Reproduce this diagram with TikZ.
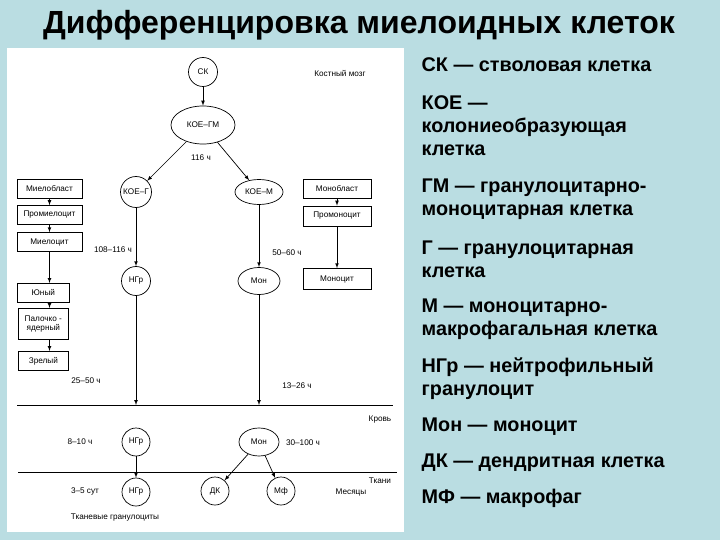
\documentclass[tikz,border=0pt]{standalone}
\usepackage{fontspec}
\setmainfont{Liberation Sans}
\usetikzlibrary{positioning}
\usetikzlibrary{arrows.meta}
\usetikzlibrary{shapes.geometric}
\definecolor{slidebg}{RGB}{186,221,226}

\begin{document}
\begin{tikzpicture}[x=1pt, y=-1pt, >=latex, line width=0.7pt]
    \tikzset{
        small/.style={font=\fontsize{8.2}{9.5}\selectfont},
        cell/.style={draw, circle, inner sep=0pt, minimum size=29pt, small},
        oval/.style={draw, ellipse, inner sep=0pt, minimum width=44pt, minimum height=27pt, small},
        stage/.style={draw, rectangle, inner sep=0pt, minimum height=19pt, small, align=center},
        legend/.style={anchor=west, align=left, font=\bfseries\fontsize{19.8}{23}\selectfont},
    }
    % slide and white panel
    \fill[slidebg] (0,0) rectangle (720,540);
    \fill[white] (7,48) rectangle (404,532);
    \useasboundingbox (0,0) rectangle (720,540);

    \node[font=\bfseries\fontsize{32}{36}\selectfont] (title) at (359,25) {Дифференцировка миелоидных клеток};

    % stem and progenitor cells
    \node[cell] (sk) at (203,72) {СК};
    \node[oval, minimum width=64pt, minimum height=38pt] (koegm) at (203,125) {КОЕ–ГМ};
    \node[cell, minimum size=31pt] (koeg) at (136,192) {КОЕ–Г};
    \node[oval, minimum width=48pt, minimum height=25pt] (koem) at (259,192) {КОЕ–М};
    \node[cell] (ngr) at (136,281) {НГр};
    \node[oval, minimum width=42pt, minimum height=27pt] (mon) at (259,281) {Мон};
    \draw[->] (sk) -- (koegm);
    \draw[->] (koegm) -- (koeg);
    \draw[->] (koegm) -- (koem);
    \draw[->] (koeg) -- (ngr);
    \draw[->] (koem) -- (mon);

    \node[small] (bm) at (340,73) {Костный мозг};
    \node[small] (t116) at (201,158) {116 ч};
    \node[small] (t108) at (113,250) {108–116 ч};
    \node[small] (t50) at (287,253) {50–60 ч};

    % granulocyte line
    \node[stage, minimum width=65pt] (mblast) at (49.5,189) {Миелобласт};
    \node[stage, minimum width=65pt] (promy) at (49.5,215) {Промиелоцит};
    \node[stage, minimum width=65pt] (myelo) at (49.5,242) {Миелоцит};
    \node[stage, minimum width=52pt, anchor=north west] (yuny) at (17,283) {Юный};
    \node[stage, minimum width=50pt, minimum height=31pt, anchor=north west] (band) at (18,308) {Палочко -\\ядерный};
    \node[stage, minimum width=50pt, anchor=north west] (mature) at (18,351) {Зрелый};
    \draw[->] (mblast) -- (promy);
    \draw[->] (promy) -- (myelo);
    \draw[->] (myelo) -- (yuny.north -| myelo.south);
    \draw[->] (yuny.south -| myelo.south) -- (band.north -| myelo.south);
    \draw[->] (band.south -| myelo.south) -- (mature.north -| myelo.south);

    % monocyte line
    \node[stage, minimum width=68pt] (moblast) at (337,189) {Монобласт};
    \node[stage, minimum width=68pt, minimum height=20pt] (promo) at (337,216) {Промоноцит};
    \node[stage, minimum width=68pt, minimum height=21pt] (mono) at (337,279) {Моноцит};
    \draw[->] (moblast) -- (promo);
    \draw[->] (promo) -- (mono);

    % blood and tissues
    \draw (17,405) -- (393,405);
    \draw (18,472) -- (397,472);
    \coordinate (ngrline) at (136,405);
    \coordinate (monline) at (259,405);
    \draw[->] (ngr) -- (ngrline);
    \draw[->] (mon) -- (monline);
    \node[small] (t25) at (86,381) {25–50 ч};
    \node[small] (t13) at (297,386) {13–26 ч};
    \node[small] (blood) at (380,420) {Кровь};
    \node[small] (tissue) at (380,481) {Ткани};

    \node[cell, minimum size=28pt] (ngrb) at (136,442) {НГр};
    \node[cell, minimum size=28pt] (ngrt) at (136,492) {НГр};
    \node[oval, minimum width=40pt, minimum height=28pt] (monb) at (259,442) {Мон};
    \node[cell, minimum size=28pt] (dk) at (215,491) {ДК};
    \node[cell, minimum size=28pt] (mf) at (281,491) {Мф};
    \draw[->] (ngrb) -- (ngrt);
    \draw[->] (monb) -- (dk);
    \draw[->] (monb) -- (mf);

    \node[small] (t8) at (80,442) {8–10 ч};
    \node[small] (t30) at (303,443) {30–100 ч};
    \node[small] (t3) at (85,491) {3–5 сут};
    \node[small] (months) at (351,492) {Месяцы};
    \node[small] (tgran) at (115,518) {Тканевые гранулоциты};

    % legend
    \node[legend] (l1) at (418,65) {СК — стволовая клетка};
    \node[legend] (l2) at (418,126) {КОЕ —\\колониеобразующая\\клетка};
    \node[legend] (l3) at (418,199) {ГМ — гранулоцитарно-\\моноцитарная клетка};
    \node[legend] (l4) at (418,259) {Г — гранулоцитарная\\клетка};
    \node[legend] (l5) at (418,319) {М — моноцитарно-\\макрофагальная клетка};
    \node[legend] (l6) at (418,379) {НГр — нейтрофильный\\гранулоцит};
    \node[legend] (l7) at (418,427) {Мон — моноцит};
    \node[legend] (l8) at (418,463) {ДК — дендритная клетка};
    \node[legend] (l9) at (418,498) {МФ — макрофаг};
\end{tikzpicture}
\end{document}
